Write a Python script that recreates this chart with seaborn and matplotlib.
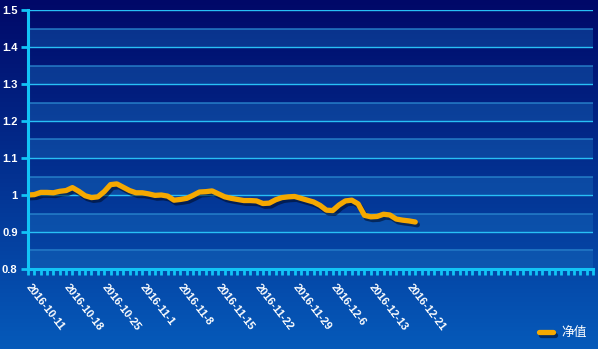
import numpy as np
import pandas as pd
import matplotlib
matplotlib.use("Agg")
import matplotlib.pyplot as plt
import matplotlib.patheffects as pe
from matplotlib.lines import Line2D
import seaborn as sns

# Net asset value per trading slot
nav = [1.000, 1.001, 1.007, 1.007, 1.006, 1.010, 1.012, 1.020, 1.010, 0.998,
       0.993, 0.995, 1.009, 1.028, 1.030, 1.021, 1.012, 1.006, 1.006, 1.003,
       0.999, 1.000, 0.997, 0.986, 0.988, 0.991, 0.999, 1.008, 1.009, 1.011,
       1.003, 0.995, 0.991, 0.988, 0.985, 0.985, 0.984, 0.977, 0.978, 0.987,
       0.993, 0.995, 0.996, 0.991, 0.986, 0.981, 0.972, 0.959, 0.958, 0.973,
       0.984, 0.986, 0.976, 0.945, 0.941, 0.942, 0.948, 0.946, 0.935, 0.932,
       0.930, 0.927]

date_labels = ["2016-10-11", "2016-10-18", "2016-10-25", "2016-11-1", "2016-11-8",
               "2016-11-15", "2016-11-22", "2016-11-29", "2016-12-6", "2016-12-13",
               "2016-12-21"]
label_step = 6
n_slots = 90

y_ticks = [0.8, 0.9, 1.0, 1.1, 1.2, 1.3, 1.4, 1.5]
y_tick_labels = ["0.8", "0.9", "1", "1.1", "1.2", "1.3", "1.4", "1.5"]
series_name = "净值"

df = pd.DataFrame({"slot": np.arange(len(nav)), "nav": nav})

sns.set_style("white")
plt.rcParams["font.family"] = ["Liberation Sans", "Noto Sans CJK SC", "DejaVu Sans"]

W, H = 598, 349
fig = plt.figure(figsize=(W / 100, H / 100), dpi=100)

# vertical gradient backdrop
bg = fig.add_axes([0, 0, 1, 1], zorder=-10)
top = np.array([0, 8, 104]) / 255
bot = np.array([6, 90, 186]) / 255
t = np.linspace(0, 1, 256)[:, None]
grad = top + (bot - top) * t
bg.imshow(grad[:, None, :].repeat(2, axis=1), aspect="auto", extent=[0, 1, 0, 1])
bg.set_axis_off()

ax = fig.add_axes([28 / W, 1 - 269 / H, (593 - 28) / W, (269 - 10) / H])
ax.set_facecolor("none")

# alternating horizontal bands
for lo in np.arange(0.8, 1.5, 0.1):
    ax.axhspan(lo, lo + 0.05, color="#1a70c0", alpha=0.38, lw=0, zorder=0)
    ax.axhline(lo + 0.05, color="#2a88d0", lw=1.2, alpha=0.8, zorder=0.5)
for yv in y_ticks:
    ax.axhline(yv, color="#28c0f6", lw=1.0, zorder=1)

shadow = [pe.SimpleLineShadow(offset=(1.5, -2), shadow_color="#000820", alpha=0.55), pe.Normal()]
sns.lineplot(data=df, x="slot", y="nav", ax=ax, color="#f5a800", lw=3.8,
             solid_capstyle="round", solid_joinstyle="round", zorder=5,
             path_effects=shadow)

ax.set_xlim(0, n_slots - 1)
ax.set_ylim(0.8, 1.5)
ax.set_xlabel("")
ax.set_ylabel("")

axis_c = "#12c4f6"
for s in ["top", "right"]:
    ax.spines[s].set_visible(False)
for s in ["left", "bottom"]:
    ax.spines[s].set_color(axis_c)
    ax.spines[s].set_linewidth(2.2)
    ax.spines[s].set_zorder(6)

ax.set_yticks(y_ticks)
ax.set_yticklabels(y_tick_labels, color="white", fontsize=8, fontweight="bold")
ax.tick_params(axis="y", length=5, width=2, color=axis_c, pad=2.5, left=True)

major = list(range(0, label_step * len(date_labels), label_step))
ax.set_xticks(major)
ax.set_xticklabels(date_labels, color="white", fontsize=7.9, fontweight="bold",
                   rotation=-52, ha="left", va="center", rotation_mode="anchor")
ax.set_xticks(np.arange(n_slots), minor=True)
ax.tick_params(axis="x", which="both", length=4.5, width=2, color=axis_c, pad=7, bottom=True)

handle = Line2D([0], [0], color="#f5a800", lw=3.8, solid_capstyle="round", path_effects=shadow)
leg = fig.legend([handle], [series_name], loc="lower right", bbox_to_anchor=(1.0, -0.005),
                 frameon=False, handlelength=1.1, handletextpad=0.6,
                 prop={"family": ["Noto Sans CJK SC", "DejaVu Sans"], "size": 9.2})
for txt in leg.get_texts():
    txt.set_color("white")

fig.savefig("out.png", dpi=100)
